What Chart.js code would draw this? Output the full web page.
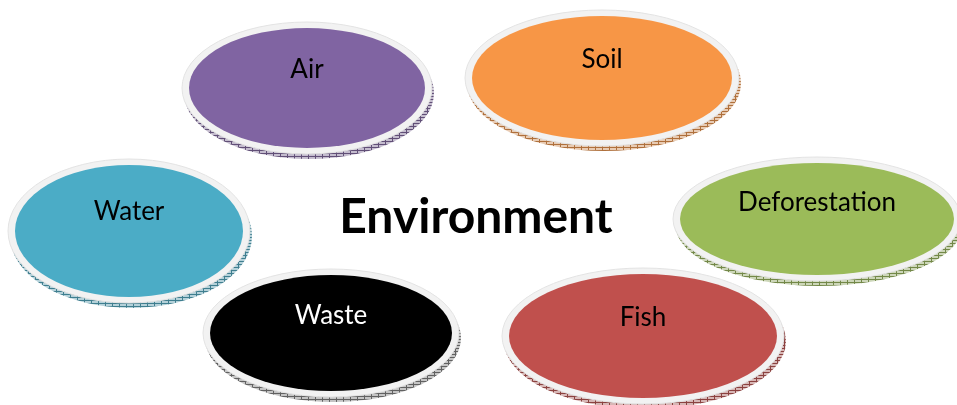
<!DOCTYPE html>
<html>
<head>
    <meta charset="utf-8"/>
    <title>Environment</title>
    <style>
        body { margin: 0; background: #ffffff; }
        #diagram { display: block; }
    </style>
</head>
<body>
    <canvas id="diagram" width="957" height="405"></canvas>

    <script src="https://cdn.jsdelivr.net/npm/chart.js"></script>
    <script>
        // topics around the centre word
        const categories = ['Air', 'Soil', 'Water', 'Deforestation', 'Waste', 'Fish'];
        const centerX = [307, 602, 129, 817, 331, 643];
        const centerY = [88, 78, 231, 219, 333, 336];
        const radiusX = [118, 130, 114, 137, 121, 134];
        const radiusY = [60, 62, 66, 56, 58, 62];

        // the centre word
        const hubLabel = ['Environment'];
        const hubX = [476];
        const hubY = [218];

        const fillColors = ['#8064A2', '#F79646', '#4BACC6', '#9BBB59', '#000000', '#C0504D'];
        const textColors = ['#000000', '#000000', '#000000', '#000000', '#ffffff', '#000000'];

        function mix(hex, target, amt) {
            const n = parseInt(hex.slice(1), 16);
            const r = (n >> 16) & 255, g = (n >> 8) & 255, b = n & 255;
            const m = c => Math.round(c + (target - c) * amt);
            return 'rgb(' + m(r) + ',' + m(g) + ',' + m(b) + ')';
        }

        // little hatch used for the side of each disc
        function hatch(ctx, hex) {
            const base = hex === '#000000' ? '#7f7f7f' : hex;
            const c = document.createElement('canvas');
            c.width = 7; c.height = 3;
            const p = c.getContext('2d');
            p.fillStyle = mix(base, 225, 0.7);
            p.fillRect(0, 0, 7, 3);
            p.fillStyle = mix(base, 40, 0.35);
            p.fillRect(0, 0, 1, 3);
            p.fillRect(0, 0, 7, 1);
            return ctx.createPattern(c, 'repeat');
        }

        const discPlugin = {
            id: 'discs',
            afterDatasetsDraw(chart) {
                const ctx = chart.ctx;
                const xs = chart.scales.x, ys = chart.scales.y;
                const meta = chart.getDatasetMeta(0);
                ctx.save();
                meta.data.forEach((pt, i) => {
                    const cx = pt.x, cy = pt.y;
                    const rx = xs.getPixelForValue(centerX[i] + radiusX[i]) - cx;
                    const ry = ys.getPixelForValue(centerY[i] + radiusY[i]) - cy;

                    // side of the disc
                    ctx.beginPath();
                    ctx.ellipse(cx + 2, cy + 5, rx + 7, ry + 6, 0, 0, Math.PI * 2);
                    ctx.fillStyle = hatch(ctx, fillColors[i]);
                    ctx.fill();

                    // light rim
                    ctx.beginPath();
                    ctx.ellipse(cx, cy, rx + 7, ry + 6, 0, 0, Math.PI * 2);
                    ctx.fillStyle = '#f2f2f2';
                    ctx.fill();
                    ctx.strokeStyle = '#e3e3e3';
                    ctx.lineWidth = 1;
                    ctx.stroke();

                    // top face
                    ctx.beginPath();
                    ctx.ellipse(cx, cy, rx, ry, 0, 0, Math.PI * 2);
                    ctx.fillStyle = fillColors[i];
                    ctx.fill();

                    ctx.fillStyle = textColors[i];
                    ctx.font = '26px Lato, "Open Sans", sans-serif';
                    ctx.textAlign = 'center';
                    ctx.textBaseline = 'middle';
                    ctx.fillText(categories[i], cx, cy - ry * 0.3);
                });

                const hub = chart.getDatasetMeta(1);
                hub.data.forEach((pt, i) => {
                    ctx.fillStyle = '#000000';
                    ctx.font = 'bold 48px Lato, "Open Sans", sans-serif';
                    ctx.textAlign = 'center';
                    ctx.textBaseline = 'middle';
                    ctx.fillText(hubLabel[i], pt.x, pt.y);
                });
                ctx.restore();
            }
        };

        new Chart(document.getElementById('diagram'), {
            type: 'scatter',
            data: {
                datasets: [{
                    data: centerX.map((x, i) => ({ x: x, y: centerY[i] })),
                    pointRadius: 0
                }, {
                    data: hubX.map((x, i) => ({ x: x, y: hubY[i] })),
                    pointRadius: 0
                }]
            },
            options: {
                responsive: false,
                animation: false,
                layout: { padding: 0 },
                plugins: {
                    legend: { display: false },
                    tooltip: { enabled: false }
                },
                scales: {
                    x: { type: 'linear', min: 0, max: 957, display: false },
                    y: { type: 'linear', min: 0, max: 405, reverse: true, display: false }
                }
            },
            plugins: [discPlugin]
        });
    </script>
</body>
</html>
